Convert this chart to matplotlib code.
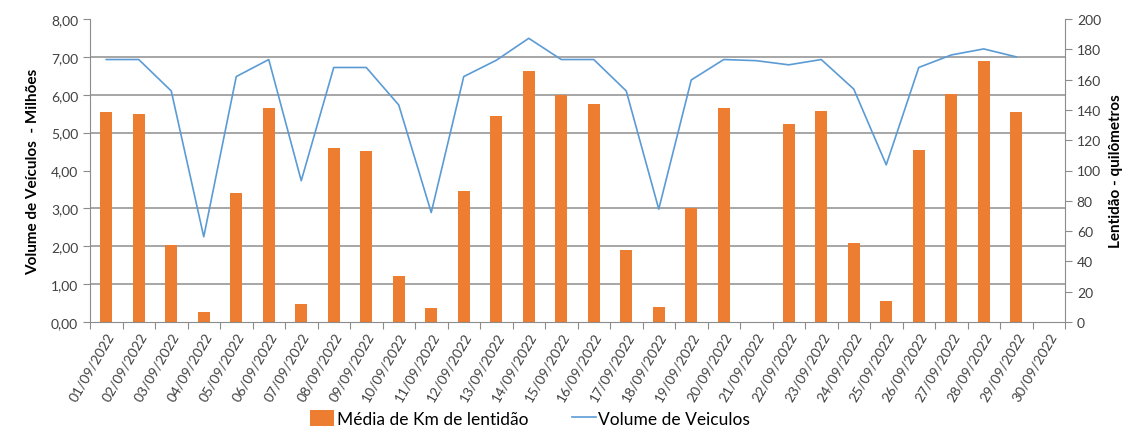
import matplotlib
matplotlib.use("Agg")
import matplotlib.pyplot as plt
import numpy as np
from matplotlib.ticker import FixedLocator, FuncFormatter

plt.rcParams['font.family'] = ['Lato', 'DejaVu Sans']

dates = [f"{d:02d}/09/2022" for d in range(1, 31)]
# Média de Km de lentidão (right axis, km); None = no bar
km = [138.7, 137.0, 50.5, 6.8, 85.0, 141.2, 11.8, 115.0, 113.2, 30.5,
      9.2, 86.4, 136.0, 165.8, 149.8, 143.6, 47.8, 9.9, 75.2, 141.2,
      None, 130.6, 139.2, 52.0, 14.0, 113.5, 150.2, 172.0, 138.4, None]
# Volume de Veículos (left axis, millions)
volume = [6.93, 6.93, 6.10, 2.25, 6.48, 6.93, 3.73, 6.72, 6.72, 5.73,
          2.89, 6.48, 6.91, 7.49, 6.93, 6.93, 6.10, 2.98, 6.39, 6.93,
          6.90, 6.79, 6.93, 6.15, 4.15, 6.72, 7.05, 7.21, 7.00, None]

W, H = 1124, 439
fig = plt.figure(figsize=(W/100, H/100), dpi=100)
ax = fig.add_axes([90/W, 1-323/H, (1065-90)/W, (323-20)/H])
ax2 = ax.twinx()

x = np.arange(len(dates))
km_arr = np.array([np.nan if v is None else v for v in km])
vol_arr = np.array([np.nan if v is None else v for v in volume])

orange = '#ED7D31'
blue = '#5B9BD5'
grid_c = '#A6A6A6'
spine_c = '#8C8C8C'
txt_c = '#404040'

ax2.set_zorder(0)
ax.set_zorder(1)
ax.patch.set_visible(False)
bars = ax2.bar(x, np.nan_to_num(km_arr), width=0.38, color=orange, zorder=2,
               label='Média de Km de lentidão')
ax2.set_ylim(0, 200)
ax2.set_yticks(np.arange(0, 201, 20))
ax2.yaxis.set_minor_locator(FixedLocator(np.arange(25, 201, 25)))
ax2.grid(True, which='minor', axis='y', color=grid_c, linewidth=1.4)
ax2.tick_params(axis='y', which='minor', length=0)
ax2.set_axisbelow(True)

line, = ax.plot(x, vol_arr, color=blue, linewidth=1.2, label='Volume de Veiculos')
ax.set_ylim(0, 8)
ax.set_yticks(np.arange(0, 8.01, 1))
ax.yaxis.set_major_formatter(FuncFormatter(lambda v, p: f"{v:.2f}".replace('.', ',')))
ax.set_xlim(-0.5, len(dates) - 0.5)

ax.set_xticks(np.arange(-0.5, len(dates), 1.0))
ax.set_xticklabels([])
ax.set_xticks(x, minor=True)
ax.set_xticklabels(dates, minor=True, rotation=60, ha='right', rotation_mode='anchor',
                   fontsize=10, color=txt_c)
ax.tick_params(axis='x', which='minor', length=0, pad=6)
ax.tick_params(axis='x', which='major', length=5, color=spine_c, direction='out')
ax.tick_params(axis='y', length=5, color=spine_c, labelsize=10, labelcolor=txt_c)
ax2.tick_params(axis='y', which='major', length=5, color=spine_c, labelsize=10, labelcolor=txt_c)
ax2.tick_params(axis='x', length=0)

for a in (ax, ax2):
    a.spines['top'].set_visible(False)
    for s in ('left', 'right', 'bottom'):
        a.spines[s].set_color(spine_c)
ax.spines['right'].set_visible(False)
ax2.spines['left'].set_visible(False)
ax2.spines['bottom'].set_visible(False)

ax.set_ylabel('Volume de Veículos  - Milhões', fontsize=11, fontweight='bold', labelpad=8)
ax2.set_ylabel('Lentidão - quilômetros', fontsize=11, fontweight='bold', labelpad=6)

fig.legend(handles=[bars, line], labels=['Média de Km de lentidão', 'Volume de Veiculos'],
           loc='lower center', bbox_to_anchor=(530/W, -0.01), ncol=2, frameon=False,
           fontsize=12.5, handlelength=1.4, handleheight=1.0, handletextpad=0.15,
           columnspacing=2.5)

fig.savefig('out.png', dpi=100)
